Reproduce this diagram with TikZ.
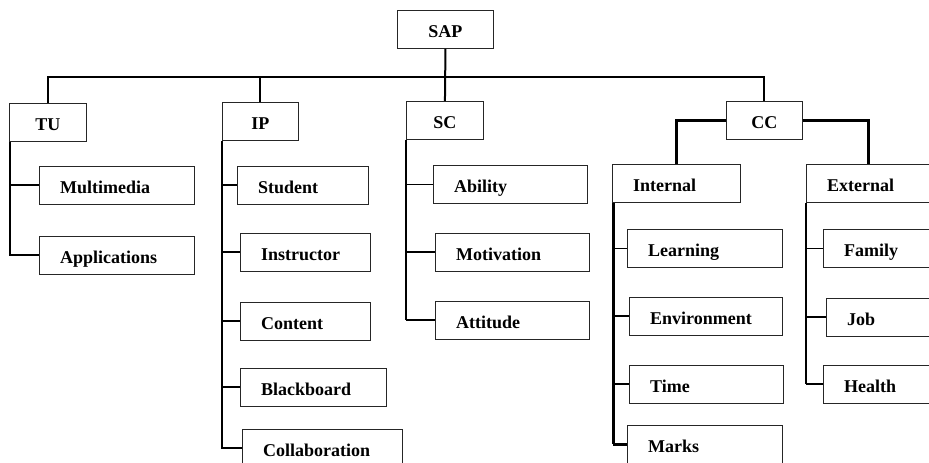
\documentclass[tikz,border=0pt]{standalone}
\usepackage{fontspec}
\setmainfont{Liberation Serif}
\newcommand\mkleaf[5]{%
  \node[bx,minimum width=#4pt] (#1) at (#2,#3) {};
  \node[lbl] (#1T) at ([shift={(21pt,-8.5pt)}]#1.west) {#5};}
\begin{document}
\begin{tikzpicture}[x=1pt,y=-1pt,
  bx/.style={draw=black!85, line width=0.9pt, minimum height=38pt, anchor=north west, inner sep=0pt},
  topbox/.style={bx, font=\bfseries\fontsize{18}{20}\selectfont, text height=17pt, text depth=0pt},
  lbl/.style={anchor=base west, inner sep=0pt, font=\bfseries\fontsize{18}{20}\selectfont},
  conn/.style={line width=2pt},
  thinconn/.style={line width=1.2pt},
  thickconn/.style={line width=3pt}]
\useasboundingbox (0,0) rectangle (929,463);
\clip (0,0) rectangle (929,463);
% top level
\node[topbox, minimum width=96pt] (SAP) at (397,10) {SAP};
\node[topbox, minimum width=77pt] (TU) at (9,103) {TU};
\node[topbox, minimum width=76pt] (IP) at (222,102) {IP};
\node[topbox, minimum width=77pt] (SC) at (406,101) {SC};
\node[topbox, minimum width=76pt] (CC) at (726,101) {CC};
% TU
\mkleaf{MM}{39}{166}{155}{Multimedia}
\mkleaf{AP}{39}{236}{155}{Applications}
% IP
\mkleaf{ST}{237}{166}{131}{Student}
\mkleaf{INS}{240}{233}{130}{Instructor}
\mkleaf{CO}{240}{302}{130}{Content}
\mkleaf{BB}{240}{368}{146}{Blackboard}
\mkleaf{CL}{242}{429}{160}{Collaboration}
% SC
\mkleaf{AB}{433}{165}{154}{Ability}
\mkleaf{MO}{435}{233}{154}{Motivation}
\mkleaf{AT}{435}{301}{154}{Attitude}
% CC
\mkleaf{IN}{612}{164}{128}{Internal}
\mkleaf{EX}{806}{164}{124}{External}
\mkleaf{LE}{627}{229}{155}{Learning}
\mkleaf{EN}{629}{297}{153}{Environment}
\mkleaf{TI}{629}{365}{154}{Time}
\mkleaf{MA}{627}{425}{155}{Marks}
\mkleaf{FA}{823}{229}{150}{Family}
\mkleaf{JO}{826}{298}{150}{Job}
\mkleaf{HE}{823}{365}{150}{Health}
% connectors
\coordinate (bus) at (0,77);
\draw[conn] (SAP.south) -- (SC.north);
\draw[conn] (TU.north) -- (TU.north |- bus) -- (CC.north |- bus) -- (CC.north);
\draw[conn] (IP.north) -- (IP.north |- bus);
% TU branches
\draw[conn] ([xshift=1pt]TU.south west) |- (MM.west);
\draw[conn] ([xshift=1pt]TU.south west) |- (AP.west);
% IP branches
\draw[conn] (IP.south west) |- (ST.west);
\draw[conn] (IP.south west) |- (INS.west);
\draw[conn] (IP.south west) |- (CO.west);
\draw[conn] (IP.south west) |- (BB.west);
\draw[conn] (IP.south west) |- (CL.west);
% SC branches
\draw[conn] (SC.south west) -- (SC.south west |- AT.west);
\draw[thinconn] (SC.south west |- AB.west) -- (AB.west);
\draw[conn] (SC.south west |- MO.west) -- (MO.west);
\draw[conn] (SC.south west |- AT.west) -- (AT.west);
% CC split
\draw[thickconn] (CC.west) -| (IN.north);
\draw[thickconn] (CC.east) -| (EX.north);
% Internal branches
\draw[thickconn] ([xshift=1pt]IN.south west) -- ([xshift=1pt]IN.south west |- MA.west);
\draw[thinconn] ([xshift=1pt]IN.south west |- LE.west) -- (LE.west);
\draw[conn] ([xshift=1pt]IN.south west |- EN.west) -- (EN.west);
\draw[conn] ([xshift=1pt]IN.south west |- TI.west) -- (TI.west);
\draw[thickconn] ([xshift=1pt]IN.south west |- MA.west) -- (MA.west);
% External branches
\draw[conn] (EX.south west) -- (EX.south west |- HE.west);
\draw[thinconn] (EX.south west |- FA.west) -- (FA.west);
\draw[conn] (EX.south west |- JO.west) -- (JO.west);
\draw[conn] (EX.south west |- HE.west) -- (HE.west);
\end{tikzpicture}
\end{document}
